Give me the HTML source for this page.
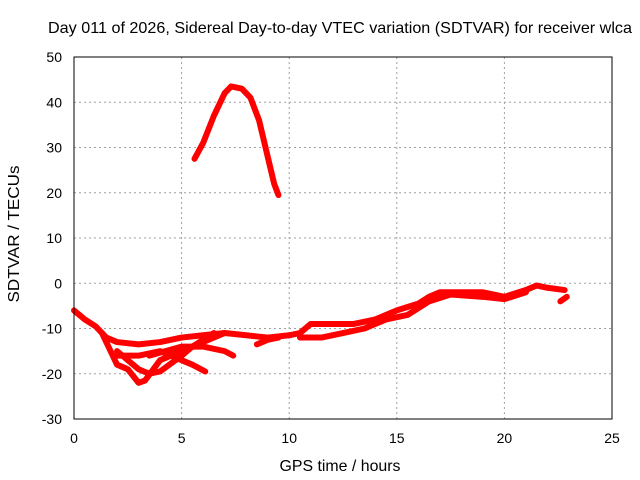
<!DOCTYPE html>
<html><head><meta charset="utf-8"><style>
body{margin:0;background:#fff}
svg{display:block;font-family:"Liberation Sans",sans-serif}
</style></head><body>
<svg id="chart" width="640" height="480" viewBox="0 0 640 480">
<text x="340" y="33" font-size="16" textLength="584" lengthAdjust="spacingAndGlyphs" text-anchor="middle" fill="#000">Day 011 of 2026, Sidereal Day-to-day VTEC variation (SDTVAR) for receiver wlca</text>
<text x="340" y="471" font-size="16" textLength="121" lengthAdjust="spacingAndGlyphs" text-anchor="middle">GPS time / hours</text>
<text transform="translate(19,234) rotate(-90)" font-size="16" textLength="137" lengthAdjust="spacingAndGlyphs" text-anchor="middle">SDTVAR / TECUs</text>
<g id="grid"></g><g id="ticks"></g><g id="series"></g>
<rect x="74" y="57" width="538" height="362" fill="none" stroke="#000" stroke-width="1"/>
</svg>
<script>
const xTicks=[0,5,10,15,20,25];
const yTicks=[-30,-20,-10,0,10,20,30,40,50];
const trunk=[[0,-6],[0.5,-8],[1,-9.5],[1.5,-12],[2,-13],[3,-13.5],[4,-13],[5,-12],[6,-11.5],[7,-11],[8,-11.5],[9,-12],[10,-11.5],[10.5,-11],[11,-9],[12,-9],[13,-9],[14,-8],[15,-6],[16,-4.5],[16.5,-3],[17,-2],[18,-2],[19,-2],[20,-3],[21,-1.5],[21.5,-0.5],[22,-1],[22.8,-1.5]];
const trunk2=[[10.5,-12],[11.5,-12],[12.5,-11],[13.5,-10],[14.5,-8],[15.5,-7],[16.5,-4],[17.5,-2.5],[19,-3],[20,-3.5],[21,-2]];
const arc=[[5.6,27.5],[6,31],[6.5,37],[7,42],[7.3,43.5],[7.8,43],[8.2,41],[8.6,36],[9,28],[9.3,22],[9.5,19.5]];
const branchA=[[1.3,-11],[1.7,-15],[2,-18],[2.5,-19],[3,-22],[3.3,-21.5],[4,-17],[5,-15],[6,-13],[7,-11]];
const branchB=[[2,-15],[3,-19],[3.5,-20],[4,-19.5],[5,-16],[5.5,-14],[6,-12.5],[6.5,-11]];
const branchC=[[2,-16],[3,-16],[4,-15],[5,-17],[5.5,-18],[6.1,-19.5]];
const branchD=[[3.5,-16],[5,-14],[6,-14],[7,-15],[7.4,-16]];
const branchE=[[8.5,-13.5],[9,-12.5],[9.5,-12]];
const stray=[[22.6,-4],[22.9,-3]];
const allSeries=[trunk,trunk2,arc,branchA,branchB,branchC,branchD,branchE,stray];
const X=h=>74+h*538/25, Y=v=>57+(50-v)*362/80;
const NS="http://www.w3.org/2000/svg";
const g=document.getElementById('grid'),t=document.getElementById('ticks'),s=document.getElementById('series');
function mk(tag,attrs,parent){const e=document.createElementNS(NS,tag);for(const k in attrs)e.setAttribute(k,attrs[k]);parent.appendChild(e);return e;}
xTicks.forEach(v=>{
 if(v>0&&v<25){const l=mk('line',{x1:X(v),x2:X(v),y1:57,y2:419,stroke:'#a0a0a0','stroke-dasharray':'2,3'},g);
 
 }
 const tx=mk('text',{x:X(v),y:443,'font-size':14,'text-anchor':'middle'},t);tx.textContent=v;
 
 
});
yTicks.forEach(v=>{
 if(v>-30&&v<50){const l=mk('line',{x1:74,x2:612,y1:Y(v),y2:Y(v),stroke:'#a0a0a0','stroke-dasharray':'2,3'},g);
 
 }
 const tx=mk('text',{x:62,y:Y(v)+5,'font-size':14,'text-anchor':'end'},t);tx.textContent=v;
 
 
});
allSeries.forEach(ser=>{
 const p=mk('polyline',{points:ser.map(d=>X(d[0])+','+Y(d[1])).join(' '),fill:'none',stroke:'#ff0000','stroke-width':6,'stroke-linejoin':'round','stroke-linecap':'round'},s);
 
 
});
</script>
</body></html>
